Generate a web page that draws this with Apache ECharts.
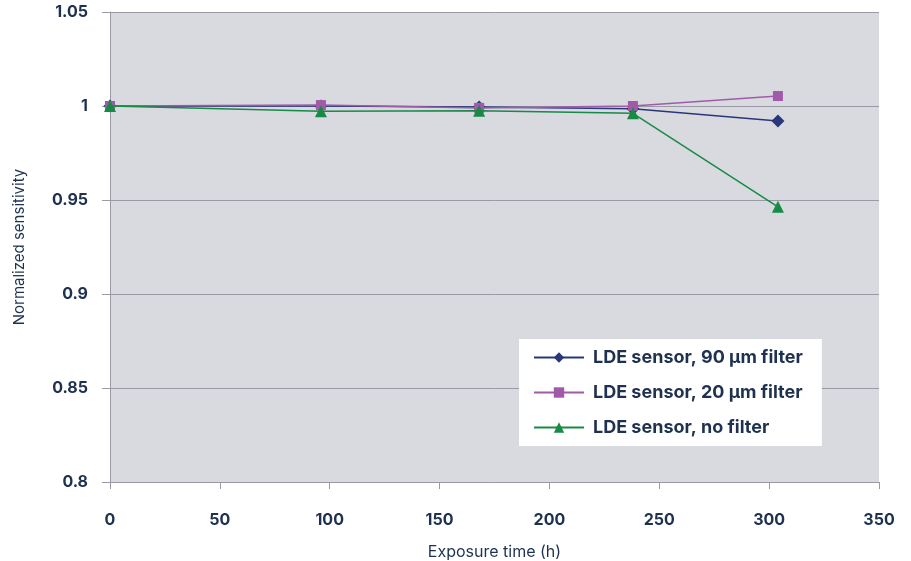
<!DOCTYPE html>
<html><head><meta charset="utf-8">
<script src="https://cdn.jsdelivr.net/npm/echarts@6/dist/echarts.min.js"></script>
<style>html,body{margin:0;padding:0;background:#fff}#c{width:911px;height:561px}</style>
</head><body><div id="c"></div>
<script>
const hours = [0, 96, 168, 238, 304];
const filter90 = [1, 1.0, 0.9995, 0.9985, 0.992];
const filter20 = [1, 1.0005, 0.999, 1.0, 1.0053];
const noFilter = [1, 0.9972, 0.9975, 0.9961, 0.9464];
const names = ['LDE sensor, 90 µm filter', 'LDE sensor, 20 µm filter', 'LDE sensor, no filter'];

const textColor = '#1e3250';
const font = 'Inter, "Noto Sans", sans-serif';
const pairs = v => hours.map((h, i) => [h, v[i]]);

const chart = echarts.init(document.getElementById('c'));
chart.setOption({
  animation: false,
  grid: {left: 110, right: 32, top: 12, bottom: 79, show: true, backgroundColor: '#d9dae0', borderWidth: 0,
         containLabel: false, outerBoundsMode: 'none'},
  xAxis: {
    type: 'value', min: 0, max: 350, interval: 50,
    name: 'Exposure time (h)', nameLocation: 'middle', nameGap: 62,
    nameTextStyle: {color: textColor, fontSize: 16, fontFamily: font},
    axisLine: {show: true, lineStyle: {color: '#9a9aa6', width: 1}},
    axisTick: {show: true, length: 7, lineStyle: {color: '#9a9aa6'}},
    axisLabel: {color: textColor, fontSize: 16, fontWeight: 'bold', fontFamily: font, margin: 30},
    splitLine: {show: false}
  },
  yAxis: {
    type: 'value', min: 0.8, max: 1.05, interval: 0.05,
    name: 'Normalized sensitivity', nameLocation: 'middle', nameGap: 83,
    nameTextStyle: {color: textColor, fontSize: 15, fontFamily: font},
    axisLine: {show: true, lineStyle: {color: '#9a9aa6', width: 1}},
    axisTick: {show: true, length: 8, lineStyle: {color: '#9a9aa6'}},
    axisLabel: {color: textColor, fontSize: 16, fontWeight: 'bold', fontFamily: font, margin: 22,
      formatter: v => String(parseFloat(v.toFixed(2)))},
    splitLine: {show: true, lineStyle: {color: '#9a9aa6', width: 1}}
  },
  legend: {
    orient: 'vertical', left: 519, top: 339,
    backgroundColor: '#ffffff', padding: [8, 19, 8, 14], itemGap: 14,
    itemWidth: 50, itemHeight: 13,
    textStyle: {color: textColor, fontSize: 18, fontWeight: 'bold', fontFamily: font, lineHeight: 21,
                padding: [0, 0, 0, 4]},
    data: names
  },
  series: [
    {name: names[0], type: 'line', data: pairs(filter90), symbol: 'diamond', symbolSize: 13,
     color: '#29367a', lineStyle: {width: 1.5}, z: 3},
    {name: names[1], type: 'line', data: pairs(filter20), symbol: 'rect', symbolSize: 10,
     color: '#a05aa8', lineStyle: {width: 1.5}, z: 4},
    {name: names[2], type: 'line', data: pairs(noFilter), symbol: 'triangle', symbolSize: 12,
     color: '#178a45', lineStyle: {width: 1.5}, z: 5}
  ]
});
</script></body></html>
